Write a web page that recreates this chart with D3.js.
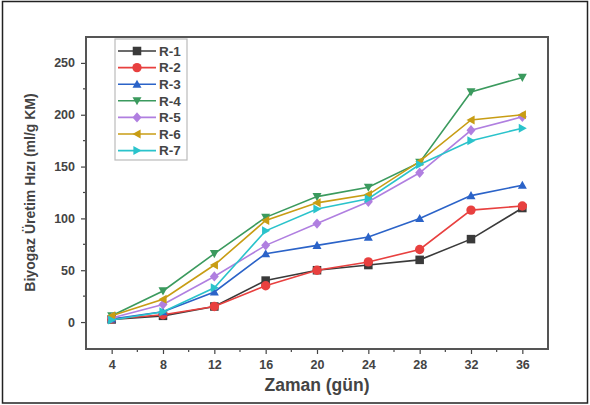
<!DOCTYPE html>
<html>
<head>
<meta charset="utf-8">
<script src="https://cdn.jsdelivr.net/npm/d3@7"></script>
<style>
  body { margin: 0; background: #fff; }
  svg { display: block; font-family: "Liberation Sans", Arial, sans-serif; }
</style>
</head>
<body>
<div id="chart"></div>
<script>
// days on the x axis
var days = [4, 8, 12, 16, 20, 24, 28, 32, 36];
var seriesNames = ["R-1", "R-2", "R-3", "R-4", "R-5", "R-6", "R-7"];
var r1 = [2.5, 6, 15, 40, 50, 55, 60, 80, 110];
var r2 = [3, 7, 15, 35, 50, 58, 70, 108, 112];
var r3 = [3, 10, 29, 66, 74, 82, 100, 122, 132];
var r4 = [6, 30, 66, 101, 121, 130, 154, 222, 236];
var r5 = [4, 17, 44, 74, 95, 116, 144, 185, 198];
var r6 = [6, 22, 55, 98, 115, 123, 155, 195, 200];
var r7 = [2, 10, 33, 88, 109, 119, 152, 175, 187];
var xTicks = [4, 8, 12, 16, 20, 24, 28, 32, 36];
var yTicks = [0, 50, 100, 150, 200, 250];

var allValues = [r1, r2, r3, r4, r5, r6, r7];
var colors = ["#3a3a3a", "#e8403f", "#2b63c8", "#3b9a5e", "#b07fe0", "#c89d14", "#2ac3cb"];
var symbols = ["square", "circle", "up", "down", "diamond", "left", "right"];

var W = 590, H = 405;
var margin = {top: 37, right: 42, bottom: 56, left: 86};
var width = W - margin.left - margin.right,
    height = H - margin.top - margin.bottom;

var svg = d3.select("#chart").append("svg")
    .attr("width", W)
    .attr("height", H);

// outer border of the picture
svg.append("rect")
    .attr("x", 2.5).attr("y", 1.5)
    .attr("width", W - 5).attr("height", H - 3.5)
    .attr("fill", "none")
    .attr("stroke", "#222")
    .attr("stroke-width", 1.5);

var g = svg.append("g")
    .attr("transform", "translate(" + margin.left + "," + margin.top + ")");

var x = d3.scaleLinear().domain([2, 38]).range([0, width]);
var y = d3.scaleLinear().domain([-26, 275]).range([height, 0]);

// axes
var xAxis = g.append("g")
    .attr("transform", "translate(0," + height + ")")
    .call(d3.axisBottom(x).tickValues(xTicks).tickSize(5).tickPadding(6));
var yAxis = g.append("g")
    .call(d3.axisLeft(y).tickValues(yTicks).tickSize(5).tickPadding(6));

// minor ticks
var xMinor = d3.range(6, 37, 4);
g.selectAll(".xminor").data(xMinor).enter().append("line")
    .attr("x1", function (d) { return x(d); })
    .attr("x2", function (d) { return x(d); })
    .attr("y1", height).attr("y2", height + 3)
    .attr("stroke", "#444").attr("stroke-width", 1.2);
var yMinor = [25, 75, 125, 175, 225];
g.selectAll(".yminor").data(yMinor).enter().append("line")
    .attr("y1", function (d) { return y(d); })
    .attr("y2", function (d) { return y(d); })
    .attr("x1", 0).attr("x2", -3)
    .attr("stroke", "#444").attr("stroke-width", 1.2);

[xAxis, yAxis].forEach(function (a) {
    a.select(".domain").remove();
    a.selectAll(".tick line").attr("stroke", "#444").attr("stroke-width", 1.2);
    a.selectAll(".tick text")
        .attr("fill", "#444")
        .style("font-size", "12.5px")
        .style("font-weight", "bold");
});

// frame
g.append("rect")
    .attr("width", width).attr("height", height)
    .attr("fill", "none")
    .attr("stroke", "#555")
    .attr("stroke-width", 2);

// titles
svg.append("text")
    .attr("x", margin.left + width / 2)
    .attr("y", 391)
    .attr("text-anchor", "middle")
    .attr("fill", "#444")
    .style("font-size", "17.5px")
    .style("font-weight", "bold")
    .text("Zaman (gün)");

svg.append("text")
    .attr("transform", "translate(35," + (margin.top + y(125)) + ") rotate(-90)")
    .attr("text-anchor", "middle")
    .attr("fill", "#444")
    .style("font-size", "14px")
    .style("font-weight", "bold")
    .text("Biyogaz Üretim Hızı (ml/g KM)");

function symbolPath(kind, s) {
    var h = s / 2;
    if (kind === "square") return d3.symbol(d3.symbolSquare, s * s * 0.9)();
    if (kind === "circle") return d3.symbol(d3.symbolCircle, s * s * 0.85)();
    if (kind === "diamond") return "M0," + (-h * 1.15) + "L" + h + ",0L0," + (h * 1.15) + "L" + (-h) + ",0Z";
    if (kind === "up") return "M0," + (-h) + "L" + h + "," + h * 0.8 + "L" + (-h) + "," + h * 0.8 + "Z";
    if (kind === "down") return "M0," + h + "L" + h + "," + (-h * 0.8) + "L" + (-h) + "," + (-h * 0.8) + "Z";
    if (kind === "left") return "M" + (-h) + ",0L" + h * 0.8 + "," + (-h) + "L" + h * 0.8 + "," + h + "Z";
    return "M" + h + ",0L" + (-h * 0.8) + "," + (-h) + "L" + (-h * 0.8) + "," + h + "Z";
}

var line = d3.line()
    .x(function (d) { return x(d[0]); })
    .y(function (d) { return y(d[1]); });

seriesNames.forEach(function (name, i) {
    var pts = days.map(function (d, j) { return [d, allValues[i][j]]; });
    g.append("path")
        .datum(pts)
        .attr("d", line)
        .attr("fill", "none")
        .attr("stroke", colors[i])
        .attr("stroke-width", 1.6);
    g.selectAll(".pt" + i).data(pts).enter().append("path")
        .attr("transform", function (d) { return "translate(" + x(d[0]) + "," + y(d[1]) + ")"; })
        .attr("d", symbolPath(symbols[i], 9))
        .attr("fill", colors[i]);
});

// legend
var legend = svg.append("g");
legend.append("rect")
    .attr("x", 115).attr("y", 39)
    .attr("width", 72).attr("height", 121)
    .attr("fill", "#fff")
    .attr("stroke", "#bbb")
    .attr("stroke-width", 1.2);

var items = legend.selectAll(".item").data(seriesNames).enter().append("g")
    .attr("transform", function (d, i) { return "translate(0," + (51 + i * 16.6) + ")"; });
items.append("line")
    .attr("x1", 118).attr("x2", 156)
    .attr("stroke", function (d, i) { return colors[i]; })
    .attr("stroke-width", 1.6);
items.append("path")
    .attr("transform", "translate(137,0)")
    .attr("d", function (d, i) { return symbolPath(symbols[i], 9); })
    .attr("fill", function (d, i) { return colors[i]; });
items.append("text")
    .attr("x", 159).attr("dy", "0.36em")
    .attr("fill", "#444")
    .style("font-size", "13.5px")
    .style("font-weight", "bold")
    .text(function (d) { return d; });
</script>
</body>
</html>
